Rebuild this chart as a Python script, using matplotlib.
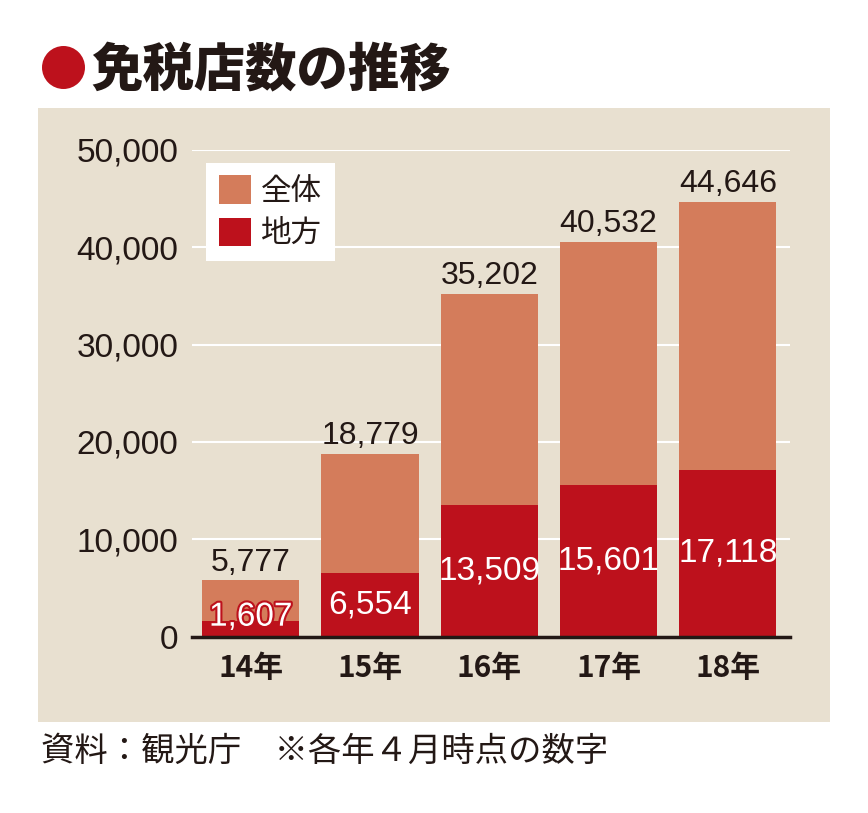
import matplotlib
matplotlib.use("Agg")
import matplotlib.pyplot as plt
import matplotlib.patheffects as pe
from matplotlib.patches import Rectangle, Circle

plt.rcParams['font.family'] = ['Noto Sans CJK JP', 'DejaVu Sans']

years = ["14年", "15年", "16年", "17年", "18年"]
total = [5777, 18779, 35202, 40532, 44646]
local = [1607, 6554, 13509, 15601, 17118]
yticks = [0, 10000, 20000, 30000, 40000, 50000]

C_TOTAL = "#d47c5b"
C_LOCAL = "#bd111c"
C_TEXT = "#231815"
C_BG = "#e8e0d0"
NUM_FONT = ["Liberation Sans", "DejaVu Sans"]

fig = plt.figure(figsize=(8.68, 8.13), dpi=100)
fig.add_artist(Rectangle((0.044, 0.112), 0.912, 0.755, transform=fig.transFigure,
                         facecolor=C_BG, edgecolor="none", zorder=0))

# title
fig.add_artist(Circle((0.635, 7.455), 0.215, transform=fig.dpi_scale_trans,
                      facecolor=C_LOCAL, edgecolor="none"))
fig.text(0.105, 0.914, "免税店数の推移", fontsize=37, fontweight="black",
         color=C_TEXT, va="center", ha="left")

ax = fig.add_axes([0.2215, 0.2169, 0.6885, 0.5986])
ax.set_facecolor("none")
x = range(len(years))
ax.bar(x, total, width=0.815, color=C_TOTAL, label="全体", zorder=2)
ax.bar(x, local, width=0.815, color=C_LOCAL, label="地方", zorder=3)

for i in x:
    ax.annotate(f"{total[i]:,}", (i, total[i]), xytext=(0, 2), textcoords="offset points",
                ha="center", va="bottom", fontsize=23, color=C_TEXT, family=NUM_FONT)
    t = ax.text(i, max(local[i] / 2, 2000), f"{local[i]:,}", ha="center", va="center",
                fontsize=24, color="white", family=NUM_FONT, zorder=4)
    if local[i] < 3000:
        t.set_path_effects([pe.withStroke(linewidth=3, foreground=C_LOCAL)])

ax.set_xlim(-0.49, 4.52)
ax.set_ylim(0, 50000)
ax.set_yticks(yticks)
ax.set_yticklabels([f"{v:,}" for v in yticks], family=NUM_FONT, fontsize=24, color=C_TEXT)
ax.set_xticks(list(x))
ax.set_xticklabels(years, fontsize=21.5, fontweight="bold", color=C_TEXT)
ax.tick_params(axis="y", length=0, pad=10)
ax.tick_params(axis="x", length=0, pad=12)
ax.grid(axis="y", color="white", linewidth=1.5, zorder=1)
ax.set_axisbelow(True)
for s in ["top", "right", "left"]:
    ax.spines[s].set_visible(False)
ax.spines["bottom"].set_color(C_TEXT)
ax.spines["bottom"].set_linewidth(2.5)
ax.spines["bottom"].set_zorder(5)

leg = ax.legend(loc="upper left", bbox_to_anchor=(0.0235, 0.973), fontsize=22,
                frameon=True, fancybox=False, framealpha=1, edgecolor="none",
                handlelength=1.05, handleheight=1.05, handletextpad=0.35,
                labelspacing=0.35, borderpad=0.4, borderaxespad=0)
for t in leg.get_texts():
    t.set_color(C_TEXT)

fig.text(0.047, 0.0763, "資料：観光庁　※各年４月時点の数字", fontsize=24,
         color=C_TEXT, va="center", ha="left")

fig.savefig("out.png", dpi=100, facecolor="white")
